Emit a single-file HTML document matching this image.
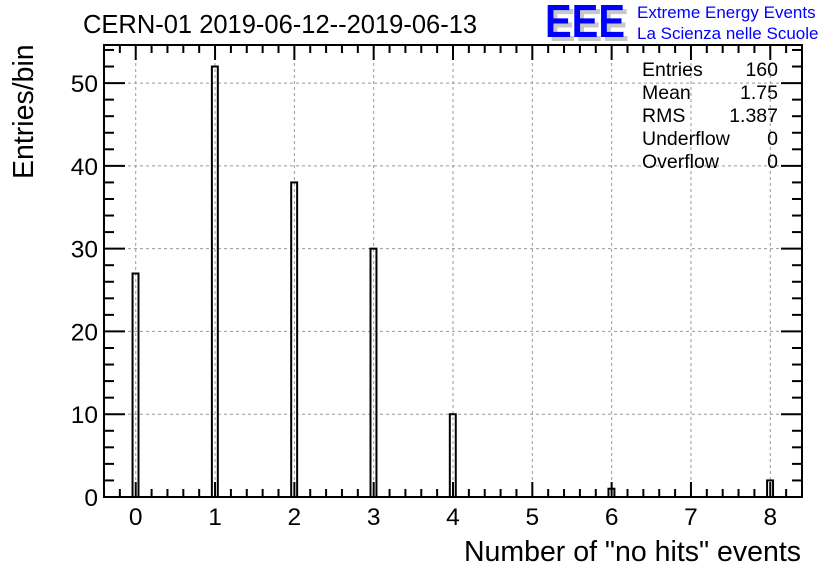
<!DOCTYPE html>
<html><head><meta charset="utf-8"><style>
body{margin:0;background:#fff;}
svg{display:block;font-family:"Liberation Sans",sans-serif;}
</style></head><body>
<svg id="c" width="836" height="572">
<rect width="836" height="572" fill="#fff"/>
<text x="83" y="33" font-size="25.5">CERN-01 2019-06-12--2019-06-13</text>
<g>
<text x="549" y="41" font-size="46" font-weight="bold" fill="#c8c8c8" textLength="80" lengthAdjust="spacingAndGlyphs">EEE</text>
<text x="545" y="37" font-size="46" font-weight="bold" fill="#0000ff" textLength="80" lengthAdjust="spacingAndGlyphs">EEE</text>
<text x="637" y="18" font-size="17" fill="#0000ff">Extreme Energy Events</text>
<text x="637" y="39" font-size="17" fill="#0000ff">La Scienza nelle Scuole</text>
</g>
<g id="grid"></g><g id="bars"></g><g id="axes"></g>
<g font-size="19.5">
<text x="642" y="76">Entries</text><text x="778" y="76" text-anchor="end">160</text>
<text x="642" y="99">Mean</text><text x="778" y="99" text-anchor="end">1.75</text>
<text x="642" y="122">RMS</text><text x="778" y="122" text-anchor="end">1.387</text>
<text x="642" y="145">Underflow</text><text x="778" y="145" text-anchor="end">0</text>
<text x="642" y="168">Overflow</text><text x="778" y="168" text-anchor="end">0</text>
</g>
<text x="801" y="561" font-size="28.5" text-anchor="end">Number of "no hits" events</text>
<text transform="translate(33,179) rotate(-90)" font-size="28.5">Entries/bin</text>
</svg>
<script>
const categories=[0,1,2,3,4,5,6,7,8];
const counts=[27,52,38,30,10,0,1,0,2];
const xTicks=[0,1,2,3,4,5,6,7,8];
const yTicks=[0,10,20,30,40,50];
const L=104,R=802,T=45,B=497,X0=-0.4,X1=8.4,Y0=0,Y1=54.6;
const NS="http://www.w3.org/2000/svg";
function sx(v){return L+(v-X0)/(X1-X0)*(R-L);}
function sy(v){return B-(v-Y0)/(Y1-Y0)*(B-T);}
function mk(p,t,a){const e=document.createElementNS(NS,t);for(const k in a)e.setAttribute(k,a[k]);document.getElementById(p).appendChild(e);return e;}
xTicks.forEach(v=>{const g=mk('grid','line',{x1:sx(v),x2:sx(v),y1:T,y2:B,stroke:'#999','stroke-dasharray':'3,3'});

});
yTicks.forEach(v=>{const g=mk('grid','line',{x1:L,x2:R,y1:sy(v),y2:sy(v),stroke:'#999','stroke-dasharray':'3,3'});

});
categories.forEach((c,i)=>{if(counts[i]<=0)return;
const x1=sx(c-0.04),x2=sx(c+0.035);
const r=mk('bars','rect',{x:x1,y:sy(counts[i]),width:x2-x1,height:B-sy(counts[i]),fill:'none',stroke:'#000','stroke-width':2});

});
const f=mk('axes','rect',{x:L,y:T,width:R-L,height:B-T,fill:'none',stroke:'#000','stroke-width':2});


for(let v=-0.4;v<=8.41;v+=0.2){const w=Math.round(v*10)/10;const maj=Math.abs(w-Math.round(w))<1e-6;const len=maj?15:8;
mk('axes','line',{x1:sx(w),x2:sx(w),y1:B,y2:B-len,stroke:'#000','stroke-width':2});
mk('axes','line',{x1:sx(w),x2:sx(w),y1:T,y2:T+len,stroke:'#000','stroke-width':2});}
for(let v=0;v<=54;v+=2){const maj=v%10===0;const len=maj?21:10;
mk('axes','line',{x1:L,x2:L+len,y1:sy(v),y2:sy(v),stroke:'#000','stroke-width':2});
mk('axes','line',{x1:R,x2:R-len,y1:sy(v),y2:sy(v),stroke:'#000','stroke-width':2});}
xTicks.forEach(v=>{const t=mk('axes','text',{x:sx(v),y:525,'font-size':24.5,'text-anchor':'middle'});t.textContent=v;

});
yTicks.forEach(v=>{const t=mk('axes','text',{x:98,y:sy(v)+9,'font-size':24.5,'text-anchor':'end'});t.textContent=v;

});
</script>
</body></html>
